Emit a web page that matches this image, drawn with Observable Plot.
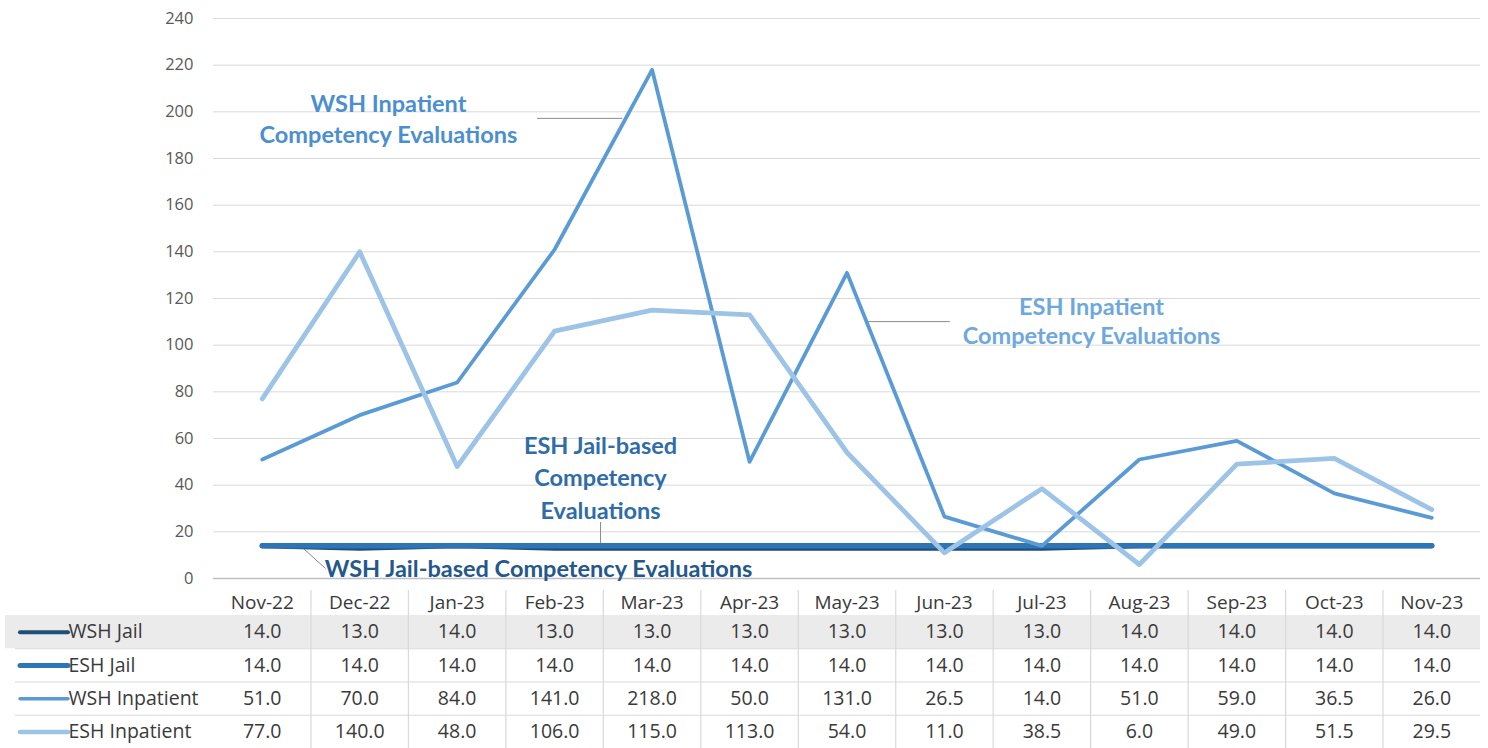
<!DOCTYPE html>
<html>
<head>
<meta charset="utf-8">
<script src="https://cdn.jsdelivr.net/npm/d3@7"></script>
<script src="https://cdn.jsdelivr.net/npm/@observablehq/plot@0.6"></script>
<style>
  html, body { margin: 0; padding: 0; background: #ffffff; }
  #chart svg, #table svg { display: block; }
</style>
</head>
<body>
<div id="chart"></div>
<div id="table"></div>
<script>
// ---- data ----
const months = ["Nov-22","Dec-22","Jan-23","Feb-23","Mar-23","Apr-23","May-23","Jun-23","Jul-23","Aug-23","Sep-23","Oct-23","Nov-23"];
const seriesNames = ["WSH Jail","ESH Jail","WSH Inpatient","ESH Inpatient"];
const wshJail = [14,13,14,13,13,13,13,13,13,14,14,14,14];
const eshJail = [14,14,14,14,14,14,14,14,14,14,14,14,14];
const wshInpatient = [51,70,84,141,218,50,131,26.5,14,51,59,36.5,26];
const eshInpatient = [77,140,48,106,115,113,54,11,38.5,6,49,51.5,29.5];
const yTicks = [0,20,40,60,80,100,120,140,160,180,200,220,240];

// ---- styling ----
const seriesValues = [wshJail, eshJail, wshInpatient, eshInpatient];
const colors = ["#1f4e79","#2e75b6","#5b9bd5","#9dc3e6"];
const lineWidths = [5, 5.5, 3.8, 4.8];
const swatchWidths = [4, 5, 3.5, 4.5];

const rows = seriesNames.flatMap((s, si) =>
  months.map((m, mi) => ({series: s, si, month: m, mi, value: seriesValues[si][mi]})));

const W = 1488, ML = 213, MR = 8;
const annFont = "Lato, 'Open Sans', sans-serif";

const notes = [
  {text: "WSH Inpatient\nCompetency Evaluations", x: 1.795, y: 197.4, fill: "#4b8fd1", lh: 1.28},
  {text: "ESH Inpatient\nCompetency Evaluations", x: 9.009, y: 110.6, fill: "#6ea8dd", lh: 1.24},
  {text: "ESH Jail-based\nCompetency\nEvaluations", x: 3.971, y: 43.9, fill: "#306ca6", lh: 1.38},
  {text: "WSH Jail-based Competency Evaluations", x: 3.335, y: 4.7, fill: "#24588b", lh: 1.3}
];

const chart = Plot.plot({
  width: W, height: 590,
  marginTop: 18, marginBottom: 12, marginLeft: ML, marginRight: MR,
  style: {fontFamily: "'Open Sans', sans-serif", color: "#595959", background: "#ffffff"},
  x: {domain: [0, months.length], axis: null},
  y: {domain: [0, 240], axis: null},
  marks: [
    Plot.ruleY(yTicks.filter(t => t > 0), {stroke: "#d9d9d9", strokeWidth: 1}),
    Plot.ruleY([0], {stroke: "#bfbfbf", strokeWidth: 1.3}),
    Plot.axisY({ticks: yTicks, tickSize: 0, tickPadding: 20, fontSize: 16.5, tickFormat: d => String(d)}),
    // leader lines
    Plot.ruleY([197.2], {x1: 3.324, x2: 4.2, stroke: "#8c8c8c", strokeWidth: 1}),
    Plot.ruleY([110.1], {x1: 6.70, x2: 7.56, stroke: "#8c8c8c", strokeWidth: 1}),
    Plot.ruleX([3.971], {y1: 24, y2: 14, stroke: "#8c8c8c", strokeWidth: 1}),
    Plot.link([0], {x1: 0.893, y1: 14, x2: 1.149, y2: 4.3, stroke: "#8c8c8c", strokeWidth: 1}),
    // series lines
    ...seriesNames.map((s, si) => Plot.line(rows.filter(d => d.si === si), {
      x: d => d.mi + 0.5, y: "value",
      stroke: colors[si], strokeWidth: lineWidths[si],
      strokeLinecap: "round", strokeLinejoin: "round"
    })),
    // annotations
    ...notes.map(n => Plot.text([n], {
      x: "x", y: "y", text: "text", fill: n.fill,
      fontFamily: annFont, fontWeight: "bold", fontSize: 23.5,
      lineAnchor: "middle", lineHeight: n.lh, textAnchor: "middle"
    }))
  ]
});
document.getElementById("chart").append(chart);

const table = Plot.plot({
  width: W, height: 158,
  marginTop: 25, marginBottom: 0, marginLeft: ML, marginRight: MR,
  style: {fontFamily: "'Open Sans', sans-serif", color: "#404040", background: "#ffffff"},
  x: {domain: [0, months.length], axis: null},
  y: {domain: [0, seriesNames.length], reverse: true, axis: null},
  marks: [
    Plot.rect(seriesNames.slice(0, 1), {
      y1: d => seriesNames.indexOf(d), y2: d => seriesNames.indexOf(d) + 1,
      fill: "#ebebeb", insetLeft: -208
    }),
    Plot.ruleY([1, 2, 3], {stroke: "#d9d9d9", strokeWidth: 1.2, insetLeft: -198}),
    Plot.ruleX(d3.range(1, months.length), {stroke: "#d9d9d9", strokeWidth: 1.2, insetTop: -25}),
    Plot.text(months, {x: (d, i) => i + 0.5, y: () => 0, dy: -13, fontSize: 19, fill: "#3a3a3a"}),
    Plot.text(rows, {x: d => d.mi + 0.5, y: d => d.si + 0.5, text: d => d.value.toFixed(1), fontSize: 19.5, fill: "#3a3a3a"}),
    ...seriesNames.map((s, si) => Plot.ruleY([s], {
      y: () => si + 0.5, stroke: colors[si], strokeWidth: swatchWidths[si],
      strokeLinecap: "round", insetLeft: -193, insetRight: (W - MR) - 68
    })),
    Plot.text(seriesNames, {
      y: (d, i) => i + 0.5, text: d => d, frameAnchor: "left", textAnchor: "start",
      dx: -145, fontSize: 19.5, fill: "#3a3a3a"
    })
  ]
});
document.getElementById("table").append(table);
</script>
</body>
</html>
